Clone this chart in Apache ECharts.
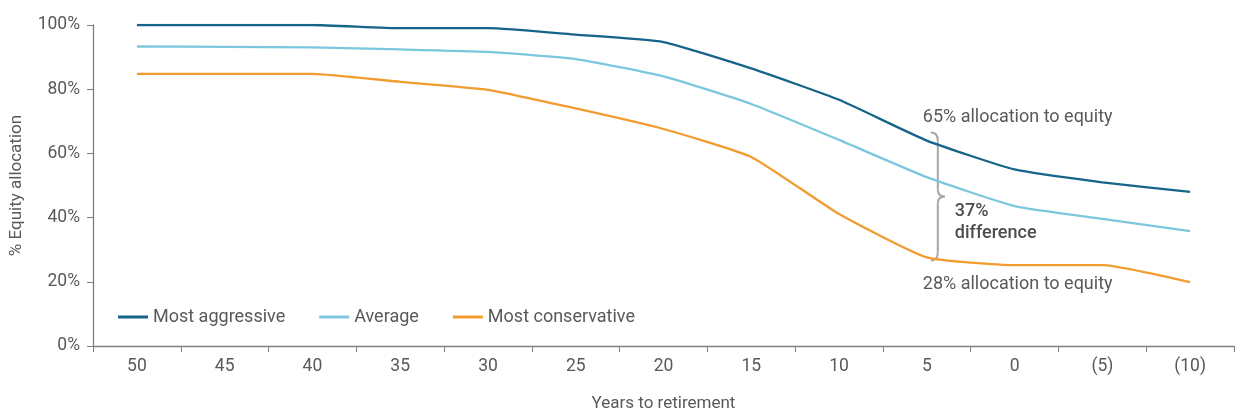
<!DOCTYPE html>
<html>
<head>
<meta charset="utf-8">
<script src="https://cdn.jsdelivr.net/npm/echarts@6/dist/echarts.min.js"></script>
<style>html,body{margin:0;padding:0;background:#fff}#c{width:1246px;height:420px}</style>
</head>
<body>
<div id="c"></div>
<script>
const categories = ['50','45','40','35','30','25','20','15','10','5','0','(5)','(10)'];
const mostAggressive = [100,100,100,99,99,97,94.7,86.5,76.7,64,55,51,48];
const average = [93.3,93.2,93,92.4,91.6,89.4,84,75.4,64.2,52.6,43.6,39.6,35.8];
const mostConservative = [84.8,84.8,84.8,82.3,79.8,74,67.6,58.9,41.1,27.6,25.2,25.2,19.9];
const yTicks = [0,20,40,60,80,100];
const seriesNames = ['Most aggressive','Average','Most conservative'];
const annotationTop = '65% allocation to equity';
const annotationBottom = '28% allocation to equity';
const diffLabel = ['37%','difference'];

const FONT = 'Roboto, "Liberation Sans", sans-serif';
const TXT = '#595959';
const AX = '#7f7f7f';
const colors = ['#16648a','#7cc7de','#f29b2e'];

const chart = echarts.init(document.getElementById('c'), null, {renderer:'canvas'});
const mk = (name, data, color) => ({
  name, type:'line', data, smooth:0.15, symbol:'none',
  lineStyle:{color, width:2.3}, itemStyle:{color}
});
chart.setOption({
  animation:false,
  textStyle:{fontFamily:FONT},
  grid:{left:93,right:12,top:25,bottom:74,containLabel:false},
  legend:{
    left:113, top:303, itemWidth:30, itemHeight:3, itemGap:34,
    icon:'rect',
    textStyle:{color:TXT,fontSize:18,fontFamily:FONT},
    data:seriesNames
  },
  xAxis:{
    type:'category', data:categories, boundaryGap:true,
    name:'Years to retirement', nameLocation:'middle', nameGap:49,
    nameTextStyle:{color:TXT,fontSize:17,fontFamily:FONT},
    axisLine:{lineStyle:{color:AX,width:1.3}},
    axisTick:{show:true,length:6,lineStyle:{color:AX},alignWithLabel:false},
    axisLabel:{color:TXT,fontSize:17.5,margin:12,fontFamily:FONT}
  },
  yAxis:{
    type:'value', min:0, max:100, interval:20,
    name:'% Equity allocation', nameLocation:'middle', nameGap:68,
    nameTextStyle:{color:TXT,fontSize:17,fontFamily:FONT},
    axisLine:{show:true,lineStyle:{color:AX,width:1.3}},
    axisTick:{show:true,length:6,lineStyle:{color:AX}},
    splitLine:{show:false},
    axisLabel:{color:TXT,fontSize:17.5,margin:13,fontFamily:FONT,
      formatter:v=> yTicks.includes(v) ? v+'%' : ''}
  },
  series:[
    mk(seriesNames[0], mostAggressive, colors[0]),
    mk(seriesNames[1], average, colors[1]),
    mk(seriesNames[2], mostConservative, colors[2])
  ]
});

// annotations positioned from the data scale
const idx = categories.indexOf('5');
const pTop = chart.convertToPixel({gridIndex:0},[idx, mostAggressive[idx]]);
const pBot = chart.convertToPixel({gridIndex:0},[idx, mostConservative[idx]]);
const bx = pTop[0] + 11;
const y1 = pTop[1] - 8, y2 = pBot[1] + 3;
const ym = (y1 + y2) / 2;
const st = {stroke:'#a6a6a6', lineWidth:2, fill:null};
const bez = (x1,yA,cx,cy,x2,yB) => ({type:'bezierCurve', shape:{x1,y1:yA,x2,y2:yB,cpx1:cx,cpy1:cy}, style:st});
const ln = (x1,yA,x2,yB) => ({type:'line', shape:{x1,y1:yA,x2,y2:yB}, style:st});
chart.setOption({
  graphic:[
    bez(bx-7,y1, bx,y1, bx,y1+8),
    ln(bx,y1+8, bx,ym-7),
    bez(bx,ym-7, bx,ym, bx+7,ym),
    bez(bx+7,ym, bx,ym, bx,ym+7),
    ln(bx,ym+7, bx,y2-8),
    bez(bx,y2-8, bx,y2, bx-7,y2),
    {type:'text', left:pTop[0]-4, top:y1-24, style:{text:annotationTop, fill:TXT, font:'18px '+FONT}},
    {type:'text', left:pTop[0]-4, top:y2+15, style:{text:annotationBottom, fill:TXT, font:'18px '+FONT}},
    {type:'text', left:bx+17, top:ym+4, style:{text:diffLabel.join('\n'), fill:'#4d4d4d', font:'500 18px '+FONT, lineHeight:22}}
  ]
});
</script>
</body>
</html>
